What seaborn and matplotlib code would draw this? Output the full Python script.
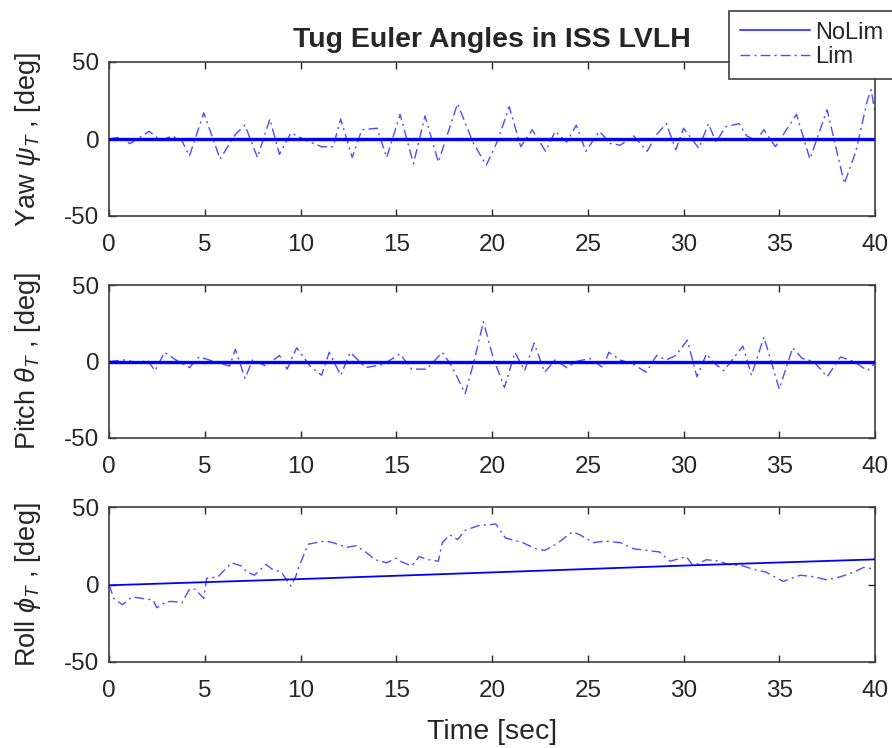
import numpy as np
import pandas as pd
import matplotlib
matplotlib.use("Agg")
import matplotlib.pyplot as plt
from matplotlib.lines import Line2D
import seaborn as sns

# ---------------- data ----------------
t_yaw_lim = [0, 0.5, 1.1, 1.6, 2.1, 2.7, 3.3, 3.8, 4.2, 4.95, 5.8, 6.6, 7.1, 7.75, 8.4, 8.9,
             9.5, 10.3, 11.1, 11.7, 12.1, 12.7, 13.2, 14.0, 14.5, 15.2, 15.9, 16.5, 17.2,
             18.2, 19.0, 19.7, 20.3, 20.9, 21.5, 22.1, 22.8, 23.3, 23.9, 24.4, 24.9, 25.6,
             26.2, 26.7, 27.4, 28.1, 28.6, 29.1, 29.6, 30.0, 30.8, 31.3, 31.7, 32.2, 32.9,
             33.3, 33.8, 34.2, 34.8, 35.9, 36.6, 37.5, 38.4, 39.0, 39.6, 39.8, 40.0]
yaw_lim = [0, 1, -3, 1, 5, -1, 2, -1, -11, 17, -13, 3, 9, -12, 13, -10,
           4, -1, -5, -5, 13, -12, 6, 7, -12, 16, -16, 15, -15,
           23, -2, -17, -1, 21, -5, 6, -8, 5, -2, 9, -8, 5,
           -3, -4, 2, -8, 3, 10, -7, 7, -6, 10, -2, 8, 10,
           2, -1, 6, -5, 16, -13, 19, -29, -8, 25, 32, 17]

t_yaw_nolim = [0, 10, 20, 30, 40]
yaw_nolim = [0, 0, 0, 0, 0]

t_pitch_lim = [0, 0.8, 1.6, 2.0, 2.4, 2.9, 3.5, 4.2, 4.7, 5.5, 6.3, 6.6, 7.1, 7.5, 8.2, 8.9,
               9.3, 9.8, 10.5, 11.1, 11.5, 12.1, 12.6, 13.4, 14.3, 15.2, 15.8, 16.6, 17.4,
               17.9, 18.6, 19.1, 19.55, 20.05, 20.65, 21.2, 21.7, 22.2, 22.75, 23.3, 23.9,
               24.4, 25.1, 25.8, 26.1, 26.7, 27.4, 28.05, 28.6, 29.1, 29.6, 30.2, 30.7, 31.2,
               31.6, 32.1, 32.6, 33.1, 33.55, 34.2, 35.0, 35.7, 36.2, 36.8, 37.5, 38.2, 38.9,
               39.6, 40.0]
pitch_lim = [0, 1, -1, 1, -6, 6, 1, -4, 3, 0, -3, 8, -11, 1, -3, 4,
             -5, 9, -3, -9, 6, -9, 6, -4, -2, 5, -5, -5, 6,
             -3, -21, 2, 26, 3, -17, 6, -6, 12, -7, 1, -4,
             0, 2, -4, 6, 1, -2, -7, 4, 1, 4, 14, -10, 5,
             -1, -6, 2, 10, -9, 16, -18, 9, 2, 0, -10, 3, 0,
             -6, -1]

t_pitch_nolim = [0, 10, 20, 30, 40]
pitch_nolim = [0, 0, 0, 0, 0]

t_roll_lim = [0, 0.25, 0.7, 1.2, 1.75, 2.3, 2.5, 3.0, 3.4, 3.8, 4.2, 4.5, 4.95, 5.1, 5.7, 6.0,
              6.4, 6.9, 7.2, 7.6, 8.2, 8.5, 9.0, 9.5, 9.75, 9.9, 10.4, 10.8, 11.3, 11.7, 12.4,
              12.9, 13.4, 13.9, 14.5, 15.0, 15.2, 15.8, 16.2, 16.7, 17.2, 17.4, 17.8, 18.2,
              18.6, 19.3, 20.2, 20.7, 21.6, 22.3, 22.75, 23.35, 24.2, 24.6, 25.3, 25.9, 26.7,
              27.4, 28.1, 28.75, 29.3, 30.15, 30.5, 31.2, 31.9, 32.3, 33.1, 33.6, 34.3, 35.2,
              36.1, 36.8, 37.5, 38.2, 38.9, 39.4, 40.0]
roll_lim = [0, -9, -13, -8, -9, -10, -15, -11, -11, -12, -3, -3, -9, 4, 5, 9,
            14, 12, 8, 6, 13, 10, 8, -1, 5, 11, 26, 27, 28, 27, 24,
            25, 21, 16, 14, 17, 15, 12, 18, 16, 15, 27, 32, 29,
            35, 38, 39, 30, 27, 23, 22, 26, 34, 32, 27, 28, 27,
            23, 22, 21, 15, 18, 12, 16, 15, 13, 12, 10, 8, 2,
            6, 5, 3, 5, 8, 11, 10]

t_roll_nolim = [0, 5, 10, 20, 30, 40]
roll_nolim = [-0.5, 1.5, 3.5, 7.8, 12.2, 16.2]

x_ticks = [0, 5, 10, 15, 20, 25, 30, 35, 40]
y_ticks = [-50, 0, 50]
title = "Tug Euler Angles in ISS LVLH"
ylabels = [r"Yaw $\psi_T$ , [deg]", r"Pitch $\theta_T$ , [deg]", r"Roll $\phi_T$ , [deg]"]
xlabel = "Time [sec]"
series_names = ["NoLim", "Lim"]

# ---------------- style ----------------
sns.set_style("ticks")
plt.rcParams["font.family"] = ["Liberation Sans", "DejaVu Sans"]
plt.rcParams["mathtext.fontset"] = "custom"
plt.rcParams["mathtext.it"] = "Liberation Sans:italic"
plt.rcParams["mathtext.rm"] = "Liberation Sans"
plt.rcParams["axes.unicode_minus"] = False

W, H = 892, 748
fig = plt.figure(figsize=(W / 100, H / 100), dpi=100)

def frac_box(l, t, r, b):
    return [l / W, 1 - b / H, (r - l) / W, (b - t) / H]

boxes = [(109, 62, 875, 216), (109, 285, 875, 438), (109, 507, 875, 662)]
blue = "#0000ff"
lim_blue = "#4d4dff"
lim_dashes = (7, 3, 1.5, 3)

datasets = [
    (t_yaw_nolim, yaw_nolim, t_yaw_lim, yaw_lim, 2.4),
    (t_pitch_nolim, pitch_nolim, t_pitch_lim, pitch_lim, 2.4),
    (t_roll_nolim, roll_nolim, t_roll_lim, roll_lim, 1.3),
]

axes = []
for i, (box, (tn, yn, tl, yl, lwn)) in enumerate(zip(boxes, datasets)):
    ax = fig.add_axes(frac_box(*box))
    axes.append(ax)
    df_n = pd.DataFrame({"t": tn, "v": yn})
    df_l = pd.DataFrame({"t": tl, "v": yl})
    sns.lineplot(data=df_n, x="t", y="v", ax=ax, color=blue, lw=lwn,
                 estimator=None, sort=False, legend=False, zorder=3)
    sns.lineplot(data=df_l, x="t", y="v", ax=ax, color=lim_blue, lw=1.0,
                 estimator=None, sort=False, legend=False, zorder=2)
    ax.lines[-1].set_dashes(lim_dashes)
    ax.set_xlim(0, 40)
    ax.set_ylim(-50, 50)
    ax.set_xticks(x_ticks)
    ax.set_yticks(y_ticks)
    ax.set_xlabel("")
    ax.set_ylabel(ylabels[i], fontsize=19.5, color="#262626")
    ax.tick_params(direction="in", top=True, right=True, length=5, width=1,
                   labelsize=17.5, colors="#262626")
    ax.tick_params(axis="x", pad=13)
    ax.tick_params(axis="y", pad=7)
    for s in ax.spines.values():
        s.set_visible(True)
        s.set_color("#404040")
        s.set_linewidth(1.2)
    ax.yaxis.set_label_coords(-0.086, 0.5)

axes[0].set_title(title, fontsize=20.5, fontweight="bold", pad=11)
axes[2].set_xlabel(xlabel, fontsize=20.5, color="#262626", labelpad=12)

handles = [Line2D([], [], color=lim_blue, lw=1.5),
           Line2D([], [], color=lim_blue, lw=1.0, dashes=lim_dashes)]
leg = fig.legend(handles, series_names, loc="upper left",
                 bbox_to_anchor=(729 / W, 1 - 11 / H), bbox_transform=fig.transFigure,
                 fontsize=17, frameon=True, fancybox=False, framealpha=1,
                 edgecolor="#404040", handlelength=3.0, handletextpad=0.2,
                 labelspacing=0.12, borderpad=0.45, borderaxespad=0)
leg.get_frame().set_linewidth(1.2)
leg.set_zorder(10)

fig.savefig("out.png", dpi=100)
